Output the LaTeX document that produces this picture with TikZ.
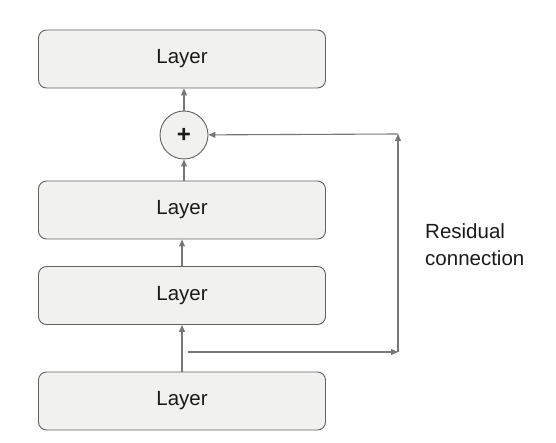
\documentclass[tikz,border=0pt]{standalone}
\usepackage{fontspec}
\setmainfont{Liberation Sans}
\usetikzlibrary{arrows.meta}

\definecolor{boxfill}{HTML}{F1F1EF}
\definecolor{boxline}{HTML}{626262}
\definecolor{wire}{HTML}{777777}
\definecolor{ink}{HTML}{1A1A1A}

\tikzset{
  layerbox/.style = {draw = boxline, fill = boxfill, rounded corners = 8pt, line width = 0.9pt,
    minimum width = 287pt, minimum height = 58pt, text = ink, font = \fontsize{20.5}{24}\selectfont},
  addnode/.style = {draw = boxline, fill = boxfill, circle, minimum size = 48pt, inner sep = 0pt,
    line width = 0.9pt, text = ink, font = \bfseries\fontsize{24}{24}\selectfont},
  wirearrow/.style = {draw = wire, line width = 1.1pt, -{Triangle[length = 7pt, width = 6pt]}}
}

\begin{document}
\begin{tikzpicture}[x = 1pt, y = 1pt]
			\useasboundingbox (0,0) rectangle (556,442);
			
			\node[layerbox] (top) at (182,383) {Layer};
			\node[addnode] (add) at (184,307) {+};
			\node[layerbox] (mid) at (182,232) {Layer};
			\node[layerbox] (low) at (182,146.5) {Layer};
			\node[layerbox] (base) at (182,41) {Layer};
			
			\coordinate (split) at (184,90);
			\coordinate (corner) at (398,90);
			\coordinate (turn) at (398,308);
			
			\draw [wirearrow] (base) to (low) ;
			\draw [wirearrow] (low) to (mid) ;
			\draw [wirearrow] (mid.north -| add) to (add) ;
			\draw [wirearrow] (add) to (top.south -| add) ;
			
			\draw [wirearrow] ([xshift = 4pt]split) to (corner) ;
			\draw [wirearrow] (corner) to (turn) ;
			\draw [wirearrow] (turn) to (add) ;
			
			\node [anchor = north west, align = left, text = ink, font = \fontsize{20.5}{27}\selectfont,
			  inner sep = 0pt] (label) at (425,219) {Residual\\connection};
		\end{tikzpicture}
\end{document}
